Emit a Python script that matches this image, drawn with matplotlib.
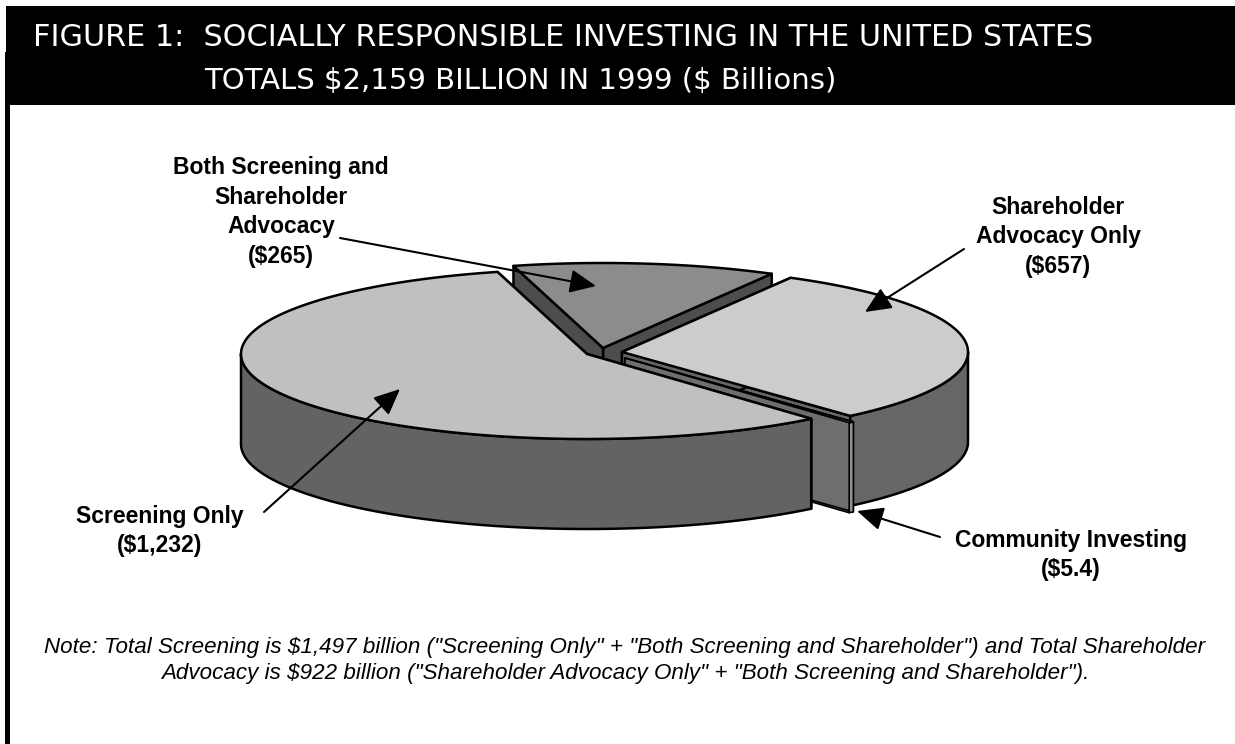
import numpy as np
import matplotlib
matplotlib.use('Agg')
import matplotlib.pyplot as plt
from matplotlib.patches import Polygon, Rectangle

plt.rcParams['font.family'] = ['Liberation Sans', 'DejaVu Sans']

# $ billions, going counter clockwise from the top of the pie
slices = ["Screening Only", "Community Investing", "Shareholder Advocacy Only", "Both Screening and Shareholder Advocacy"]
amounts = [1232, 5.4, 657, 265]

title_1 = "FIGURE 1:  SOCIALLY RESPONSIBLE INVESTING IN THE UNITED STATES"
title_2 = "TOTALS \\$2,159 BILLION IN 1999 (\\$ Billions)"
note_1 = 'Note: Total Screening is \\$1,497 billion ("Screening Only" + "Both Screening and Shareholder") and Total Shareholder'
note_2 = 'Advocacy is \\$922 billion ("Shareholder Advocacy Only" + "Both Screening and Shareholder").'

# everything below is in pixels, y going down
W, H = 1235, 744
RX, RY, DEPTH = 346, 85, 90
START = 105.0
centers = [(587, 354), (625, 358), (622, 352), (603, 348)]
top_col = ['#c0c0c0', '#8a8a8a', '#cccccc', '#8c8c8c']
wall_col = ['#636363', '#969696', '#666666', '#4d4d4d']
radial_col = ['#636363', '#6e6e6e', '#666666', '#4d4d4d']
edge_lw = [1.8, 1.2, 1.8, 1.8]

fig = plt.figure(figsize=(W / 100, H / 100), dpi=100)
ax = fig.add_axes([0, 0, 1, 1])
ax.set_xlim(0, W)
ax.set_ylim(H, 0)
ax.axis('off')

# header band and left rule
ax.add_patch(Rectangle((6, 6), W - 6, 99, fc='black', ec='none', zorder=1))
ax.add_patch(Rectangle((5, 52), 5, H - 52, fc='black', ec='none', zorder=1))


def rim(c, a0, a1):
    t = np.radians(np.linspace(a0, a1, max(int(abs(a1 - a0)) * 2, 2)))
    return np.column_stack([c[0] + RX * np.cos(t), c[1] - RY * np.sin(t)])


def down(pts):
    return pts + np.array([0, DEPTH])


def draw_slice(i, a0, a1, z):
    c = np.array(centers[i], dtype=float)
    arc = rim(c, a0, a1)
    kw = dict(ec='black', lw=edge_lw[i], joinstyle='round', zorder=z)
    # radial faces
    for p in (arc[0], arc[-1]):
        face = np.array([c, p, p + [0, DEPTH], c + [0, DEPTH]])
        ax.add_patch(Polygon(face, fc=radial_col[i], **kw))
    # outer wall, only the part turned towards the viewer
    lo, hi = max(a0, 180), min(a1, 360)
    if a1 > 360 and a0 < 360:
        lo, hi = a0, 360
    if hi > lo:
        front = rim(c, lo, hi)
        ax.add_patch(Polygon(np.vstack([front, down(front)[::-1]]), fc=wall_col[i], **kw))
    ax.add_patch(Polygon(np.vstack([c, arc]), fc=top_col[i], **kw))


sweep = np.array(amounts) / sum(amounts) * 360
edges = START + np.concatenate([[0], np.cumsum(sweep)])

# back to front so nearer slices cover the ones behind
for z, i in enumerate([3, 2, 1, 0]):
    draw_slice(i, edges[i], edges[i + 1], 3 + z)

# labels
label_kw = dict(ha='center', va='center', fontsize=16.5, fontweight='bold', color='black', linespacing=1.36, zorder=10)
ax.text(281, 212, "Both Screening and\nShareholder\nAdvocacy\n(\\$265)", **label_kw)
ax.text(1058, 237, "Shareholder\nAdvocacy Only\n(\\$657)", **label_kw)
ax.text(160, 531, "Screening Only\n(\\$1,232)", **label_kw)
ax.text(1071, 555, "Community Investing\n(\\$5.4)", **label_kw)

# leader arrows
leaders = [((340, 238), (596, 286)), ((964, 249), (865, 312)), ((264, 512), (400, 389)), ((940, 537), (857, 511))]
for tail, tip in leaders:
    ax.annotate("", xy=tip, xytext=tail, zorder=11,
                arrowprops=dict(arrowstyle='-|>,head_length=1.0,head_width=0.45', color='black', lw=1.5,
                                shrinkA=0, shrinkB=0, mutation_scale=16))

# title
ax.text(33, 38, title_1, color='white', fontsize=21.8, family='DejaVu Sans', ha='left', va='center', zorder=2)
ax.text(204, 81, title_2, color='white', fontsize=21, family='DejaVu Sans', ha='left', va='center', zorder=2)

# footnote
ax.text(625, 647, note_1, style='italic', fontsize=16.15, ha='center', va='center')
ax.text(625, 674, note_2, style='italic', fontsize=16.15, ha='center', va='center')

fig.savefig('out.png', dpi=100)
